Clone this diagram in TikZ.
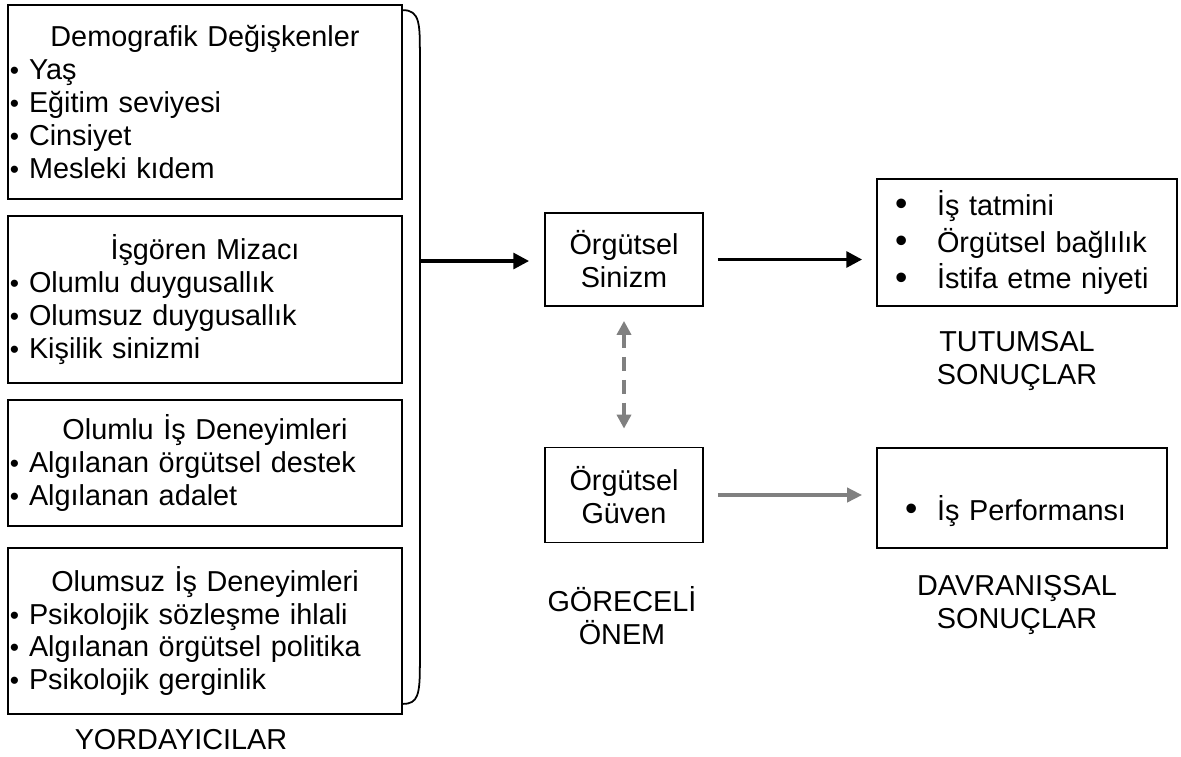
\documentclass[tikz,border=0pt]{standalone}
\usepackage{fontspec}
\setmainfont{Liberation Sans}
\usetikzlibrary{arrows.meta,calc}
\definecolor{arrowgray}{HTML}{808080}
\newcommand{\lb}{\makebox[0.38cm][l]{\fontsize{15}{12}\selectfont •}}
\newcommand{\rb}[1]{\makebox[#1][l]{\fontsize{20}{12}\selectfont\raisebox{-0.3pt}{•}}}

\begin{document}
\begin{tikzpicture}[
    every node/.style={font=\fontsize{16.4}{18.7}\selectfont},
    predbox/.style={draw, line width=1pt, text width=7.8cm, inner xsep=0.04cm, align=left},
    midbox/.style={draw, line width=1pt, minimum width=3.16cm, align=center},
    outbox/.style={draw, line width=1pt, inner xsep=0.36cm, align=left},
    caption/.style={align=center},
    blackarrow/.style={line width=2pt, -{Triangle[length=9pt,width=9pt]}},
    grayarrow/.style={arrowgray, line width=2pt, -{Triangle[length=8.5pt,width=8pt]}},
    dasharrow/.style={arrowgray, line width=2.2pt, dash pattern=on 8pt off 5pt,
        {Triangle[length=8pt,width=8pt]}-{Triangle[length=8pt,width=8pt]}}
]
    \useasboundingbox (0,0) rectangle (23.62,-15.12);

    % predictors
    \node[predbox, minimum height=3.88cm] (demo) at (4.10,-2.04)
        {\makebox[7.8cm]{Demografik Değişkenler}\\ \lb Yaş\\ \lb Eğitim seviyesi\\ \lb Cinsiyet\\ \lb Mesleki kıdem};
    \node[predbox, minimum height=3.34cm] (mizac) at (4.10,-5.99)
        {\makebox[7.8cm]{İşgören Mizacı}\\ \lb Olumlu duygusallık\\ \lb Olumsuz duygusallık\\ \lb Kişilik sinizmi};
    \node[predbox, minimum height=2.52cm] (olumlu) at (4.10,-9.26)
        {\makebox[7.8cm]{Olumlu İş Deneyimleri}\\ \lb Algılanan örgütsel destek\\ \lb Algılanan adalet};
    \node[predbox, minimum height=3.32cm] (olumsuz) at (4.10,-12.62)
        {\makebox[7.8cm]{Olumsuz İş Deneyimleri}\\ \lb Psikolojik sözleşme ihlali\\ \lb Algılanan örgütsel politika\\ \lb Psikolojik gerginlik};
    \node[caption] (yord) at (3.62,-14.80) {YORDAYICILAR};

    % brace
    \draw[line width=1pt] ($(demo.north east)+(0,-0.12)$) .. controls +(0.34,0) and +(0,0.6) ..
        ($(demo.north east)+(0.34,-1.0)$) -- ($(olumsuz.south east)+(0.34,1.0)$)
        .. controls +(0,-0.6) and +(0.3,0) .. ($(olumsuz.south east)+(0,0.22)$);
    \coordinate (bj) at (8.42,-5.22);

    % middle
    \node[midbox, minimum height=1.86cm] (sinizm) at (12.48,-5.19) {Örgütsel\\Sinizm};
    \node[midbox, minimum height=1.90cm] (guven) at (12.48,-9.90) {Örgütsel\\Güven};
    \node[caption] (onem) at (12.44,-12.32) {GÖRECELİ\\ÖNEM};

    % outcomes
    \node[outbox, text width=5.28cm, minimum height=2.54cm, font=\fontsize{16.4}{20.8}\selectfont] (tutum) at (20.54,-4.85)
        {\rb{0.84cm}İş tatmini\\ \rb{0.84cm}Örgütsel bağlılık\\ \rb{0.84cm}İstifa etme niyeti};
    \node[caption] (tutumcap) at (20.34,-7.22) {TUTUMSAL\\SONUÇLAR};
    \node[outbox, text width=5.08cm, minimum height=2.0cm, text height=1.0cm, text depth=0.12cm] (perf) at (20.44,-9.96)
        {\hspace{0.2cm}\rb{0.64cm}İş Performansı};
    \node[caption] (davcap) at (20.34,-12.10) {DAVRANIŞSAL\\SONUÇLAR};

    % arrows
    \draw[blackarrow, shorten >=0.3cm] (bj) -- (bj -| sinizm.west);
    \draw[blackarrow, shorten <=0.28cm, shorten >=0.28cm] (sinizm.east) -- (sinizm.east -| tutum.west);
    \draw[dasharrow, shorten <=0.28cm, shorten >=0.36cm] (sinizm.south) -- (guven.north);
    \draw[grayarrow, shorten <=0.28cm, shorten >=0.28cm] (guven.east) -- (guven.east -| perf.west);
\end{tikzpicture}
\end{document}
